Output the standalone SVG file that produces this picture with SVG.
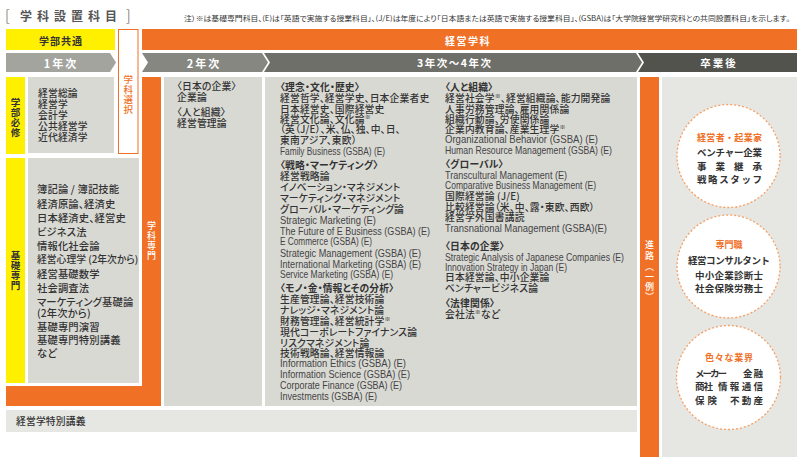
<svg xmlns="http://www.w3.org/2000/svg" width="800" height="463" viewBox="0 0 800 463">
<style>
text{font-family:"Noto Sans CJK JP","Noto Sans",sans-serif;dominant-baseline:central;fill:#333}
.jp{font-size:9.8px;font-weight:500;font-feature-settings:"palt";letter-spacing:0.15px}
.k{font-size:10.3px}
.h{font-weight:700}
.en{font-family:"Liberation Sans",Arial,sans-serif;font-size:10.2px;fill:#444;font-weight:400}
.v{font-size:9.5px;text-anchor:middle;font-weight:700}
.c{font-size:9.5px;font-weight:700;fill:#333}
.co{font-size:9px;font-weight:700;fill:#f07026}
.w{fill:#fff}
.orange{fill:#f07026}
.yellow{fill:#fff000}
.gray{fill:#d9d9d4}
.light{fill:#e6e6e2}
.circ{fill:#fff;stroke:#f5a064;stroke-width:1.3;stroke-dasharray:2 2}
</style>

<g id="title">
<text x="5" y="14" style="font-size:15px;font-weight:300;fill:#555">[</text>
<text x="20" y="15" style="font-size:12px;font-weight:700;fill:#555;letter-spacing:5px">学科設置科目</text>
<text x="126" y="14" style="font-size:15px;font-weight:300;fill:#555">]</text>
<text x="184" y="17.5" textLength="606" lengthAdjust="spacingAndGlyphs" style="font-size:7px;fill:#333;font-feature-settings:'palt'">注）※は基礎専門科目、(E)は「英語で実施する授業科目」、(J/E)は年度により「日本語または英語で実施する授業科目」、(GSBA)は「大学院経営学研究科との共同設置科目」を示します。</text>
</g>

<g id="header-gakubu">
<rect class="yellow" x="6" y="29" width="109" height="21"/>
<text x="61" y="40" style="font-size:10px;font-weight:700;text-anchor:middle;letter-spacing:1px">学部共通</text>
</g>
<g id="header-keiei">
<rect class="orange" x="142" y="29" width="655" height="21"/>
<text x="468" y="40" class="w" style="font-size:10px;font-weight:700;text-anchor:middle;letter-spacing:1.5px">経営学科</text>
</g>

<g id="year1">
<polygon points="6,53 110,53 116,62.5 110,72 6,72" fill="#a4a49f"/>
<text x="61" y="62.5" class="w" style="font-size:11px;font-weight:700;text-anchor:middle;letter-spacing:2px">1年次</text>
</g>
<g id="year2">
<polygon points="142,53 262,53 268,62.5 262,72 142,72 148,62.5" fill="#878782"/>
<text x="204" y="62.5" class="w" style="font-size:11px;font-weight:700;text-anchor:middle;letter-spacing:2px">2年次</text>
</g>
<g id="year3">
<polygon points="264,53 636,53 642,62.5 636,72 264,72 270,62.5" fill="#6f6f6a"/>
<text x="417" y="62.5" class="w" style="font-size:10.5px;font-weight:700;letter-spacing:1.5px">3年次〜4年次</text>
</g>
<g id="graduate">
<polygon points="638,53 797,53 797,72 638,72 644,62.5" fill="#53534e"/>
<text x="719" y="62.5" class="w" style="font-size:10.5px;font-weight:700;text-anchor:middle;letter-spacing:2px">卒業後</text>
</g>

<g id="gakka-sentaku">
<rect x="118.5" y="29.5" width="19.5" height="124" fill="#fff" stroke="#f07026" stroke-width="1"/>
<text class="v" x="128.3" y="79" style="fill:#f07026;font-weight:500">学</text>
<text class="v" x="128.3" y="89" style="fill:#f07026;font-weight:500">科</text>
<text class="v" x="128.3" y="99" style="fill:#f07026;font-weight:500">選</text>
<text class="v" x="128.3" y="109" style="fill:#f07026;font-weight:500">択</text>
</g>

<g id="gakubu-hisshu">
<rect class="yellow" x="6" y="77" width="19" height="77"/>
<text class="v" x="15.5" y="102">学</text>
<text class="v" x="15.5" y="112">部</text>
<text class="v" x="15.5" y="122">必</text>
<text class="v" x="15.5" y="132">修</text>
<rect class="gray" x="28" y="77" width="86" height="76"/>
<text class="jp" x="38" y="93">経営総論</text>
<text class="jp" x="38" y="104">経営学</text>
<text class="jp" x="38" y="115">会計学</text>
<text class="jp" x="38" y="126">公共経営学</text>
<text class="jp" x="38" y="137">近代経済学</text>
</g>

<g id="kiso-senmon">
<rect class="yellow" x="6" y="158" width="19" height="225"/>
<text class="v" x="15.5" y="255">基</text>
<text class="v" x="15.5" y="265">礎</text>
<text class="v" x="15.5" y="275">専</text>
<text class="v" x="15.5" y="285">門</text>
<rect class="gray" x="28" y="158" width="111" height="225"/>
<text class="jp k" x="37" y="188">簿記論 / 簿記技能</text>
<text class="jp k" x="37" y="203">経済原論、経済史</text>
<text class="jp k" x="37" y="217">日本経済史、経営史</text>
<text class="jp k" x="37" y="231">ビジネス法</text>
<text class="jp k" x="37" y="245">情報化社会論</text>
<text class="jp" x="37" y="259" style="letter-spacing:0">経営心理学 (2年次から)</text>
<text class="jp k" x="37" y="273">経営基礎数学</text>
<text class="jp k" x="37" y="287">社会調査法</text>
<text class="jp k" x="37" y="301">マーケティング基礎論</text>
<text class="jp k" x="37" y="312">(2年次から)</text>
<text class="jp k" x="37" y="326">基礎専門演習</text>
<text class="jp k" x="37" y="339">基礎専門特別講義</text>
<text class="jp k" x="37" y="352">など</text>
</g>

<g id="gakka-senmon">
<path class="orange" d="M142,77 H161 V406 H6 V386 H142 Z"/>
<text class="v w" x="151.5" y="225" style="font-size:9px;font-weight:500">学</text>
<text class="v w" x="151.5" y="235" style="font-size:9px;font-weight:500">科</text>
<text class="v w" x="151.5" y="245" style="font-size:9px;font-weight:500">専</text>
<text class="v w" x="151.5" y="255" style="font-size:9px;font-weight:500">門</text>
</g>

<g id="year2-courses">
<rect class="gray" x="164" y="77" width="98" height="329"/>
<text class="jp" x="177" y="86">〈日本の企業〉</text>
<text class="jp" x="177" y="97">企業論</text>
<text class="jp" x="177" y="112">〈人と組織〉</text>
<text class="jp" x="177" y="123">経営管理論</text>
</g>

<g id="year34-courses">
<rect class="gray" x="265" y="77" width="372" height="329"/>
<text class="jp h" x="280" y="87">〈理念・文化・歴史〉</text>
<text class="jp" x="280" y="98">経営哲学、経営学史、日本企業者史</text>
<text class="jp" x="280" y="108.5">日本経営史、国際経営史</text>
<text class="jp" x="280" y="118.5">経営文化論、文化論<tspan style="font-size:6px" dy="-3">※</tspan></text>
<text class="jp" x="280" y="129">（英（J/E）、米、仏、独、中、日、</text>
<text class="jp" x="280" y="140">東南アジア、東欧）</text>
<text class="en" x="280" y="151" textLength="105" lengthAdjust="spacingAndGlyphs">Family Business (GSBA) (E)</text>
<text class="jp h" x="280" y="165">〈戦略・マーケティング〉</text>
<text class="jp" x="280" y="176">経営戦略論</text>
<text class="jp" x="280" y="187">イノベーション・マネジメント</text>
<text class="jp" x="280" y="198">マーケティング・マネジメント</text>
<text class="jp" x="280" y="208.5">グローバル・マーケティング論</text>
<text class="en" x="280" y="220" textLength="96" lengthAdjust="spacingAndGlyphs">Strategic Marketing (E)</text>
<text class="en" x="280" y="231" textLength="150" lengthAdjust="spacingAndGlyphs">The Future of E Business (GSBA) (E)</text>
<text class="en" x="280" y="241.5" textLength="92" lengthAdjust="spacingAndGlyphs">E Commerce (GSBA) (E)</text>
<text class="en" x="280" y="253" textLength="141" lengthAdjust="spacingAndGlyphs">Strategic Management (GSBA) (E)</text>
<text class="en" x="280" y="264" textLength="141" lengthAdjust="spacingAndGlyphs">International Marketing (GSBA) (E)</text>
<text class="en" x="280" y="274" textLength="113" lengthAdjust="spacingAndGlyphs">Service Marketing (GSBA) (E)</text>
<text class="jp h" x="280" y="288">〈モノ・金・情報とその分析〉</text>
<text class="jp" x="280" y="299">生産管理論、経営技術論</text>
<text class="jp" x="280" y="310">ナレッジ・マネジメント論</text>
<text class="jp" x="280" y="321">財務管理論、経営統計学<tspan style="font-size:6px" dy="-3">※</tspan></text>
<text class="jp" x="280" y="332">現代コーポレートファイナンス論</text>
<text class="jp" x="280" y="343">リスクマネジメント論</text>
<text class="jp" x="280" y="353">技術戦略論、経営情報論</text>
<text class="en" x="280" y="363.5" textLength="126" lengthAdjust="spacingAndGlyphs">Information Ethics (GSBA) (E)</text>
<text class="en" x="280" y="374" textLength="130" lengthAdjust="spacingAndGlyphs">Information Science (GSBA) (E)</text>
<text class="en" x="280" y="385" textLength="122" lengthAdjust="spacingAndGlyphs">Corporate Finance (GSBA) (E)</text>
<text class="en" x="280" y="396" textLength="97" lengthAdjust="spacingAndGlyphs">Investments (GSBA) (E)</text>

<text class="jp h" x="445" y="87">〈人と組織〉</text>
<text class="jp" x="445" y="98">経営社会学<tspan style="font-size:6px" dy="-3">※</tspan><tspan dy="3">、経営組織論、能力開発論</tspan></text>
<text class="jp" x="445" y="108.5">人事労務管理論、雇用関係論</text>
<text class="jp" x="445" y="119">組織行動論、労使関係論</text>
<text class="jp" x="445" y="129">企業内教育論、産業生理学<tspan style="font-size:6px" dy="-3">※</tspan></text>
<text class="en" x="445" y="139.5" textLength="153" lengthAdjust="spacingAndGlyphs">Organizational Behavior (GSBA) (E)</text>
<text class="en" x="445" y="150" textLength="167" lengthAdjust="spacingAndGlyphs">Human Resource Management (GSBA) (E)</text>
<text class="jp h" x="445" y="164">〈グローバル〉</text>
<text class="en" x="445" y="175" textLength="122" lengthAdjust="spacingAndGlyphs">Transcultural Management (E)</text>
<text class="en" x="445" y="185" textLength="151" lengthAdjust="spacingAndGlyphs">Comparative Business Management (E)</text>
<text class="jp" x="445" y="196">国際経営論 (J/E)</text>
<text class="jp" x="445" y="207">比較経営論（米、中、露・東欧、西欧）</text>
<text class="jp" x="445" y="217">経営学外国書講読</text>
<text class="en" x="445" y="228" textLength="162" lengthAdjust="spacingAndGlyphs">Transnational Management (GSBA)(E)</text>
<text class="jp h" x="445" y="246">〈日本の企業〉</text>
<text class="en" x="445" y="257" textLength="179" lengthAdjust="spacingAndGlyphs">Strategic Analysis of Japanese Companies (E)</text>
<text class="en" x="445" y="267" textLength="122" lengthAdjust="spacingAndGlyphs">Innovation Strategy in Japan (E)</text>
<text class="jp" x="445" y="277">日本経営論、中小企業論</text>
<text class="jp" x="445" y="288">ベンチャービジネス論</text>
<text class="jp h" x="445" y="303">〈法律関係〉</text>
<text class="jp" x="445" y="314">会社法<tspan style="font-size:6px" dy="-3">※</tspan><tspan dy="3">など</tspan></text>
</g>

<g id="tokubetsu-kogi">
<rect class="light" x="6" y="410" width="631" height="22"/>
<text class="jp" x="16" y="421">経営学特別講義</text>
</g>

<g id="shinro">
<rect class="orange" x="640" y="77" width="19" height="380"/>
<text class="v w" x="649.5" y="244" style="font-weight:500;font-size:9px">進</text>
<text class="v w" x="649.5" y="255" style="font-weight:500;font-size:9px">路</text>
<text class="v w" x="649.5" y="266" style="font-weight:500;font-size:9px">︵</text>
<text class="v w" x="649.5" y="276" style="font-weight:500;font-size:9px">一</text>
<text class="v w" x="649.5" y="286" style="font-weight:500;font-size:9px">例</text>
<text class="v w" x="649.5" y="296" style="font-weight:500;font-size:9px">︶</text>
<rect class="light" x="662" y="77" width="135" height="380"/>
</g>

<g id="career-keieisha">
<circle class="circ" cx="728.5" cy="156" r="51.5"/>
<text class="co" x="697" y="137" textLength="65" lengthAdjust="spacing">経営者・起業家</text>
<text class="c" x="697" y="152" textLength="65" lengthAdjust="spacing">ベンチャー企業</text>
<text class="c" x="697" y="166" textLength="65" lengthAdjust="spacing">事業継承</text>
<text class="c" x="697" y="179" textLength="65" lengthAdjust="spacing">戦略スタッフ</text>
</g>

<g id="career-senmonshoku">
<circle class="circ" cx="728.5" cy="266.5" r="51.5"/>
<text class="co" x="729" y="244" style="text-anchor:middle">専門職</text>
<text class="c" x="688" y="260" textLength="82" lengthAdjust="spacing">経営コンサルタント</text>
<text class="c" x="695" y="275" textLength="68" lengthAdjust="spacing">中小企業診断士</text>
<text class="c" x="695" y="288" textLength="68" lengthAdjust="spacing">社会保険労務士</text>
</g>

<g id="career-gyokai">
<circle class="circ" cx="728.5" cy="377.5" r="52"/>
<text class="co" x="705" y="357" textLength="48" lengthAdjust="spacing">色々な業界</text>
<text class="c" x="695" y="373" textLength="32" lengthAdjust="spacing">メーカー</text>
<text class="c" x="743" y="373" textLength="20" lengthAdjust="spacing">金融</text>
<text class="c" x="695" y="386" textLength="18" lengthAdjust="spacing">商社</text>
<text class="c" x="718" y="386" textLength="45" lengthAdjust="spacing">情報通信</text>
<text class="c" x="695" y="400" textLength="22" lengthAdjust="spacing">保険</text>
<text class="c" x="730" y="400" textLength="33" lengthAdjust="spacing">不動産</text>
</g>

<g id="connectors"></g>
</svg>
